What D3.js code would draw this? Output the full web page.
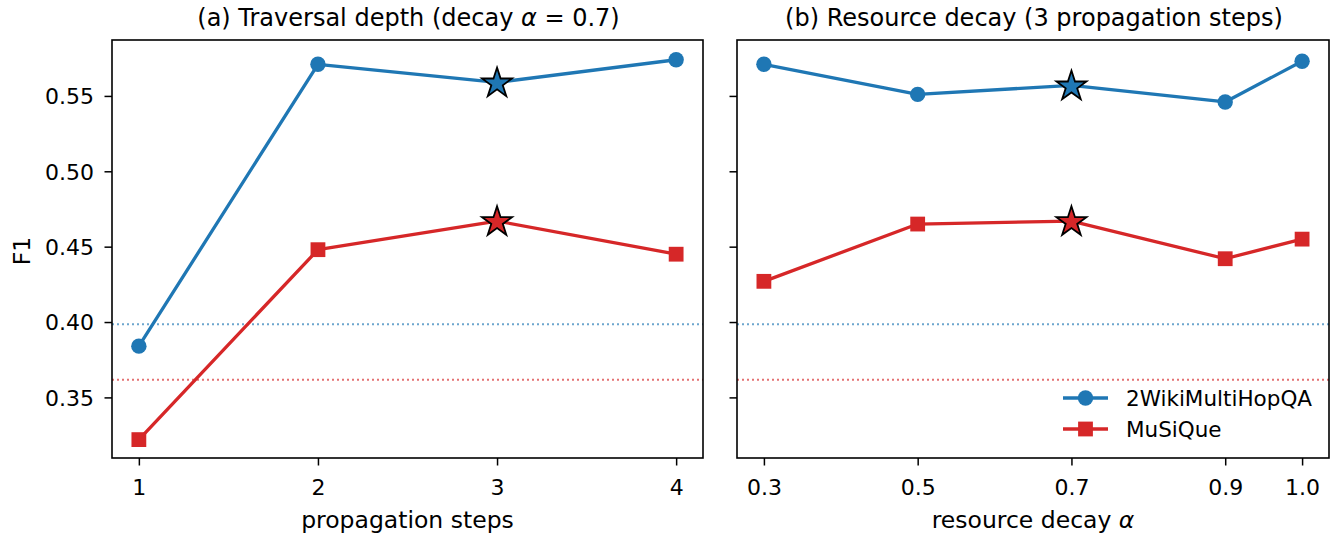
<!DOCTYPE html>
<html>
<head>
<meta charset="utf-8">
<script src="https://cdn.jsdelivr.net/npm/d3@7"></script>
<style>
  body { margin: 0; background: #fff; }
  svg { display: block; font-family: "DejaVu Sans", sans-serif; }
</style>
</head>
<body>
<svg id="chart" width="1342" height="535"></svg>
<script>
// ---- data ----
const stepsX = [1, 2, 3, 4];
const steps2Wiki = [0.384, 0.571, 0.559, 0.574];
const stepsMuSiQue = [0.322, 0.448, 0.467, 0.445];
const stepsBest = 3;

const decayX = [0.3, 0.5, 0.7, 0.9, 1.0];
const decay2Wiki = [0.571, 0.551, 0.557, 0.546, 0.573];
const decayMuSiQue = [0.427, 0.465, 0.467, 0.442, 0.455];
const decayBest = 0.7;

const baseline2Wiki = 0.3986;
const baselineMuSiQue = 0.3617;

const yTicks = [0.35, 0.40, 0.45, 0.50, 0.55];
const stepsTicks = [1, 2, 3, 4];
const decayTicks = [0.3, 0.5, 0.7, 0.9, 1.0];

const seriesNames = ["2WikiMultiHopQA", "MuSiQue"];
const colors = ["#1f77b4", "#d62728"];

// ---- layout ----
const svg = d3.select("#chart");
const plotTop = 40, plotBottom = 458;
const yDomain = [0.3098, 0.5871];
const y = d3.scaleLinear().domain(yDomain).range([plotBottom, plotTop]);
const tickFont = 22, labelFont = 23.5, titleFont = 24, legendFont = 21.5;

const panels = [
  { x0: 112, x1: 703, xs: stepsX, a: steps2Wiki, b: stepsMuSiQue, best: stepsBest,
    ticks: stepsTicks, fmt: d3.format("d"), title: "(a) Traversal depth (decay ",
    titleTail: " = 0.7)", xlabel: "propagation steps", xlabelAlpha: false, ylabels: true, legend: false },
  { x0: 737, x1: 1329, xs: decayX, a: decay2Wiki, b: decayMuSiQue, best: decayBest,
    ticks: decayTicks, fmt: d3.format(".1f"), title: "(b) Resource decay (3 propagation steps)",
    titleTail: null, xlabel: "resource decay ", xlabelAlpha: true, ylabels: false, legend: true }
];

const starSym = d3.symbol().type(d3.symbolStar).size(280);
const circleSym = d3.symbol().type(d3.symbolCircle).size(Math.PI * 7.7 * 7.7);
const squareSym = d3.symbol().type(d3.symbolSquare).size(14.8 * 14.8);

panels.forEach(p => {
  const ext = d3.extent(p.xs);
  const m = (ext[1] - ext[0]) * 0.05;
  const x = d3.scaleLinear().domain([ext[0] - m, ext[1] + m]).range([p.x0, p.x1]);
  const g = svg.append("g");

  // baselines
  [[baseline2Wiki, colors[0]], [baselineMuSiQue, colors[1]]].forEach(([v, c]) => {
    g.append("line")
      .attr("x1", p.x0).attr("x2", p.x1)
      .attr("y1", y(v)).attr("y2", y(v))
      .attr("stroke", c).attr("stroke-opacity", 0.65)
      .attr("stroke-width", 2).attr("stroke-dasharray", "2,3");
  });

  // series
  const series = [p.a, p.b];
  series.forEach((vals, si) => {
    const pts = p.xs.map((xv, i) => [xv, vals[i]]);
    g.append("path")
      .attr("d", d3.line().x(d => x(d[0])).y(d => y(d[1]))(pts))
      .attr("fill", "none").attr("stroke", colors[si]).attr("stroke-width", 3.3)
      .attr("stroke-linejoin", "round");
    g.selectAll(null).data(pts.filter(d => d[0] !== p.best)).enter().append("path")
      .attr("transform", d => `translate(${x(d[0])},${y(d[1])})`)
      .attr("d", si === 0 ? circleSym : squareSym)
      .attr("fill", colors[si]);
    pts.filter(d => d[0] === p.best).forEach(d => {
      g.append("path")
        .attr("transform", `translate(${x(d[0])},${y(d[1]) + 1})`)
        .attr("d", starSym)
        .attr("fill", colors[si]).attr("stroke", "#000").attr("stroke-width", 1.8)
        .attr("stroke-linejoin", "miter");
    });
  });

  // frame
  g.append("rect").attr("x", p.x0).attr("y", plotTop)
    .attr("width", p.x1 - p.x0).attr("height", plotBottom - plotTop)
    .attr("fill", "none").attr("stroke", "#000").attr("stroke-width", 1.6);

  // x axis
  const xAxis = d3.axisBottom(x).tickValues(p.ticks).tickFormat(p.fmt).tickSize(7.5);
  const xg = g.append("g").attr("transform", `translate(0,${plotBottom})`).call(xAxis);
  xg.select(".domain").remove();
  xg.selectAll(".tick line").attr("stroke", "#000").attr("stroke-width", 1.5);
  xg.selectAll(".tick text").attr("font-size", tickFont).attr("fill", "#000")
    .attr("font-family", "DejaVu Sans").attr("y", 37).attr("dy", null);

  // y axis
  const yAxis = d3.axisLeft(y).tickValues(yTicks).tickFormat(d3.format(".2f")).tickSize(7.5);
  const yg = g.append("g").attr("transform", `translate(${p.x0},0)`).call(yAxis);
  yg.select(".domain").remove();
  yg.selectAll(".tick line").attr("stroke", "#000").attr("stroke-width", 1.5);
  yg.selectAll(".tick text").attr("font-size", tickFont).attr("fill", "#000")
    .attr("font-family", "DejaVu Sans").attr("x", -18).attr("dy", "0.36em");
  if (!p.ylabels) yg.selectAll(".tick text").remove();

  // title
  const cx = (p.x0 + p.x1) / 2;
  const t = g.append("text").attr("x", cx + 1).attr("y", 26).attr("text-anchor", "middle")
    .attr("font-size", titleFont).attr("fill", "#000").text(p.title);
  if (p.titleTail) {
    t.append("tspan").attr("font-style", "italic").text("\u03b1");
    t.append("tspan").text(p.titleTail);
  }

  // x label
  const xl = g.append("text").attr("x", cx).attr("y", 528).attr("text-anchor", "middle")
    .attr("font-size", labelFont).attr("fill", "#000").text(p.xlabel);
  if (p.xlabelAlpha) xl.append("tspan").attr("font-style", "italic").text("\u03b1");

  // legend
  if (p.legend) {
    const lg = g.append("g");
    seriesNames.forEach((name, i) => {
      const ly = 398 + i * 31;
      lg.append("line").attr("x1", 1063).attr("x2", 1108).attr("y1", ly).attr("y2", ly)
        .attr("stroke", colors[i]).attr("stroke-width", 3.3);
      lg.append("path").attr("transform", `translate(1085.5,${ly})`)
        .attr("d", i === 0 ? circleSym : squareSym).attr("fill", colors[i]);
      lg.append("text").attr("x", 1126).attr("y", ly).attr("dy", "0.36em")
        .attr("font-size", legendFont).attr("fill", "#000").text(name);
    });
  }
});

// y label
svg.append("text").attr("transform", "translate(30,251) rotate(-90)")
  .attr("text-anchor", "middle").attr("font-size", labelFont).attr("fill", "#000").text("F1");
</script>
</body>
</html>
